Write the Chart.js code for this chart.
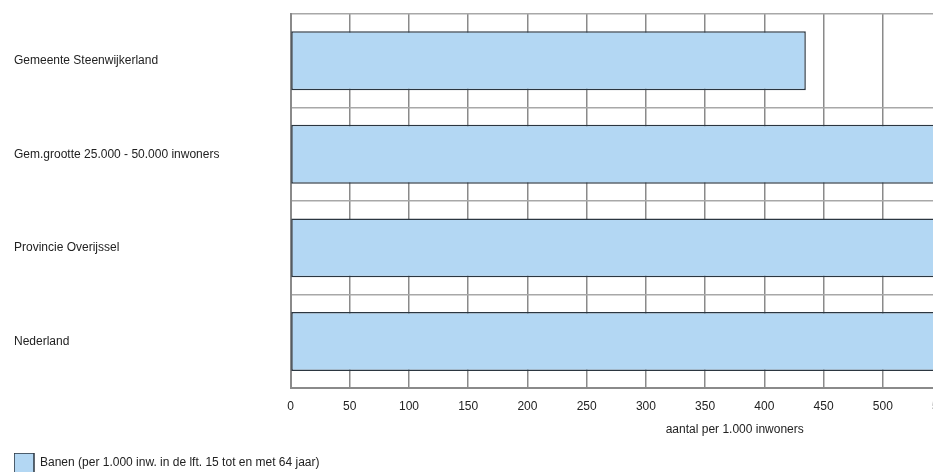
<!DOCTYPE html>
<html>
<head>
<meta charset="utf-8">
<script src="https://cdn.jsdelivr.net/npm/chart.js@4"></script>
<style>
  html, body { margin: 0; padding: 0; background: #fff; overflow: hidden; }
  #wrap { width: 933px; height: 472px; overflow: hidden; }
</style>
</head>
<body>
<div id="wrap"><canvas id="banenChart" width="1200" height="483"></canvas></div>
<script>
// Banen per 1.000 inwoners
const categories = [
  'Gemeente Steenwijkerland',
  'Gem.grootte 25.000 - 50.000 inwoners',
  'Provincie Overijssel',
  'Nederland'
];
const banen = [435, 690, 705, 725];
const xMin = 0;
const xMax = 750;
const xStep = 50;

Chart.defaults.font.family = '"Liberation Sans", Arial, sans-serif';
Chart.defaults.font.size = 12;
Chart.defaults.color = '#222';

const ctx = document.getElementById('banenChart').getContext('2d');
const banenChart = new Chart(ctx, {
  type: 'bar',
  data: {
    labels: categories,
    datasets: [{
      label: 'Banen (per 1.000 inw. in de lft. 15 tot en met 64 jaar)',
      data: banen,
      backgroundColor: 'rgb(179, 215, 243)',
      borderColor: '#2b3640',
      borderWidth: 1.5,
      borderSkipped: false,
      categoryPercentage: 1,
      barPercentage: 0.63
    }]
  },
  options: {
    indexAxis: 'y',
    responsive: false,
    animation: false,
    layout: { padding: { left: 14, top: 14, right: 20, bottom: 0 } },
    plugins: {
      legend: {
        position: 'bottom',
        align: 'start',
        labels: { boxWidth: 20, boxHeight: 20, padding: 0, color: '#222', font: { size: 12 } }
      },
      tooltip: { enabled: false }
    },
    scales: {
      x: {
        min: xMin,
        max: xMax,
        ticks: { stepSize: xStep, padding: 11, color: '#222' },
        grid: { color: '#8a8a8a', lineWidth: 1.5, drawTicks: false },
        border: { color: '#8a8a8a', width: 2 },
        title: { display: true, text: 'aantal per 1.000 inwoners', color: '#222', padding: { top: -2, bottom: 16 } }
      },
      y: {
        ticks: { crossAlign: 'far', color: '#222' },
        grid: { color: '#a8a8a8', lineWidth: 1.5, drawTicks: false },
        border: { color: '#8a8a8a', width: 2 },
        afterFit: (scale) => { scale.width = 276.5; }
      }
    }
  }
});
</script>
</body>
</html>
